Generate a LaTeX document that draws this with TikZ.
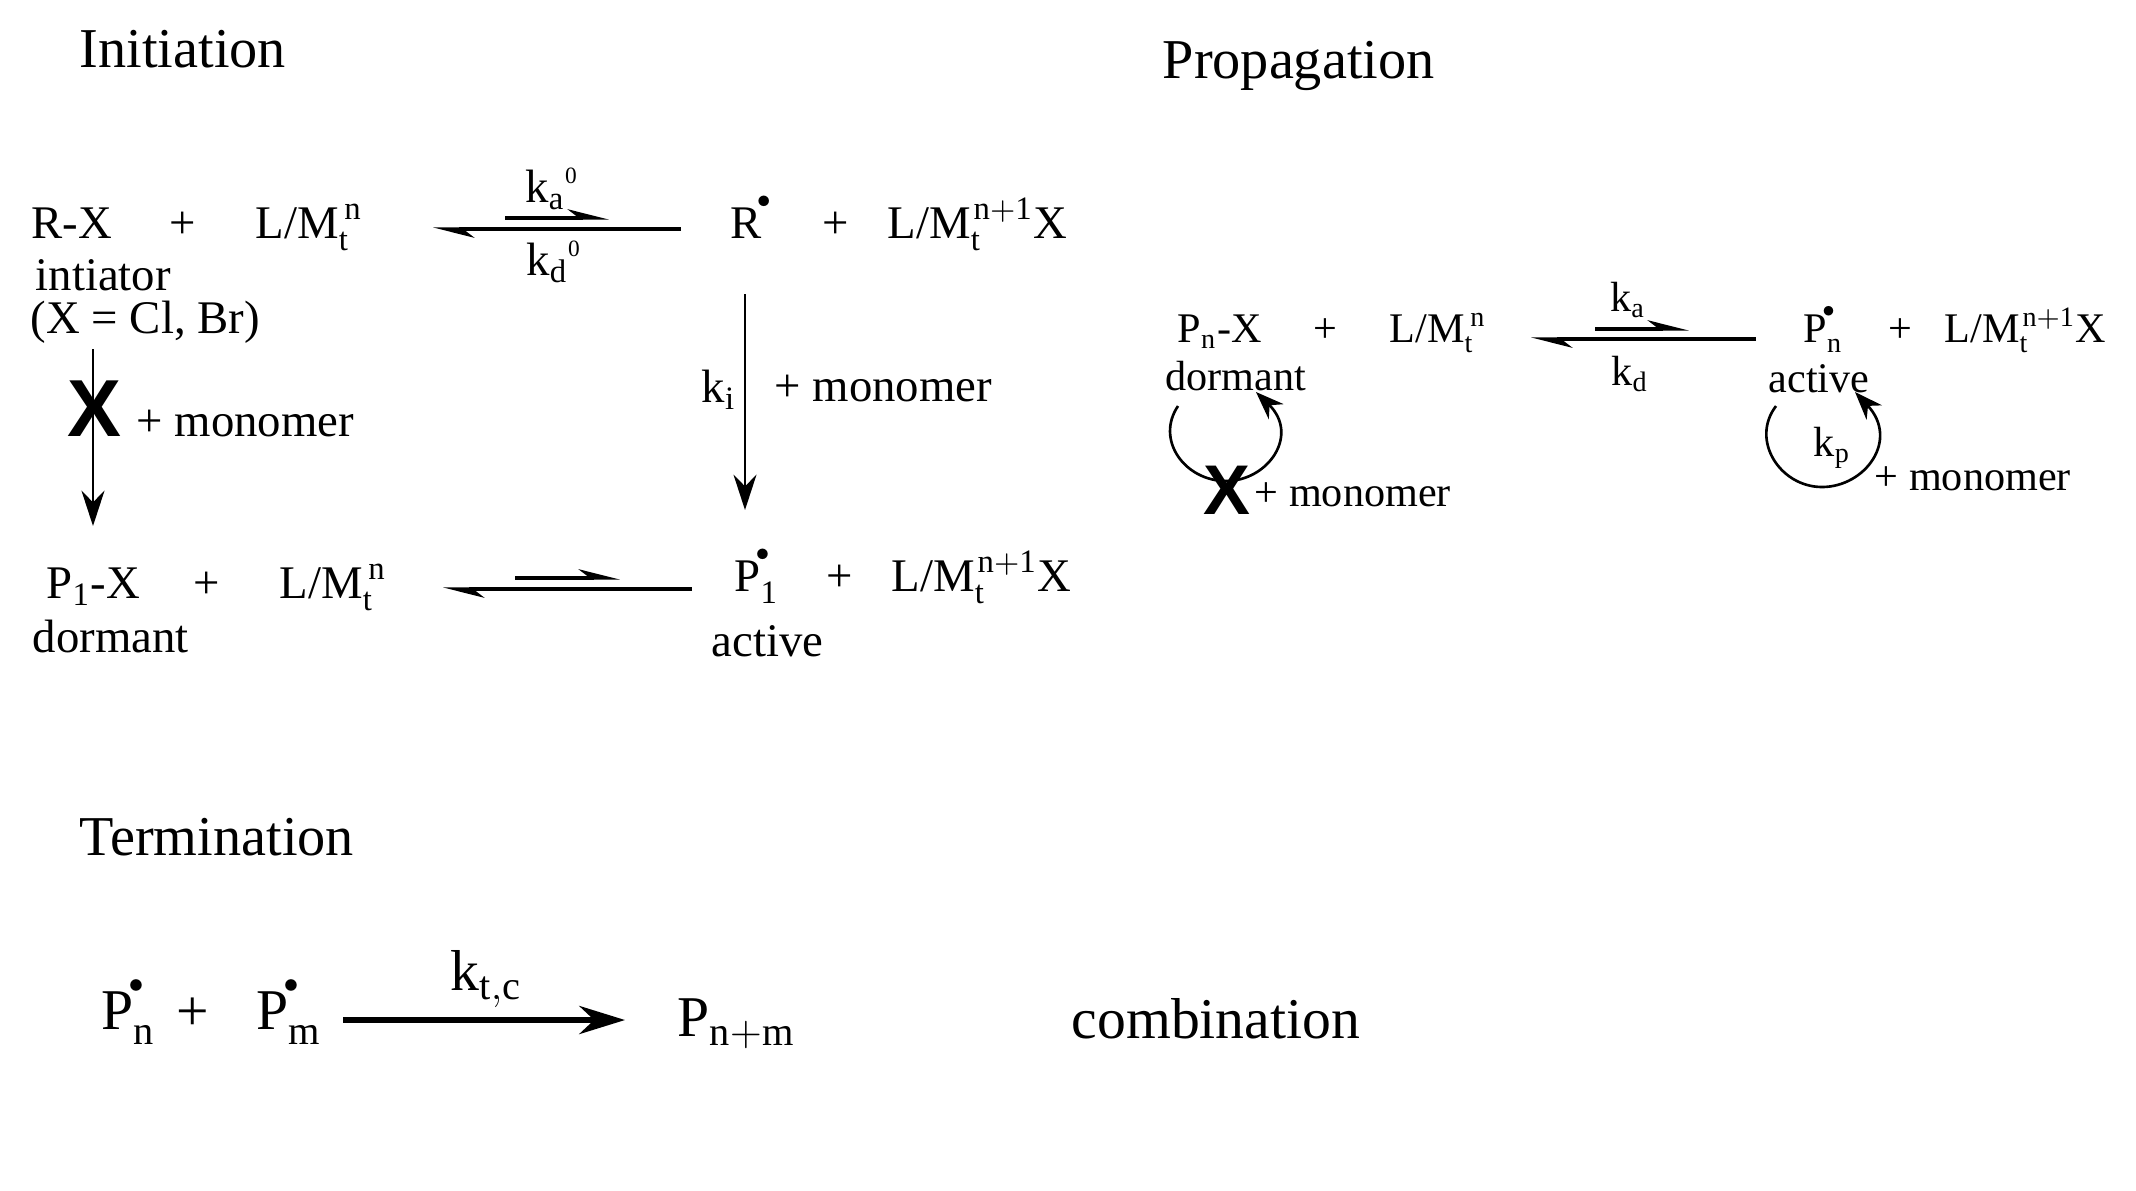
\documentclass[tikz,border=0pt]{standalone}
\usepackage{fontspec}
\setmainfont{Liberation Serif}
\newfontfamily\crossfont{Liberation Sans}
\usetikzlibrary{arrows.meta}
\newcommand{\rad}{{\kern-1.5pt\raisebox{0.55ex}{$\scriptscriptstyle\bullet$}}}
\newcommand{\lmt}{L/M$_{\mathrm{t}}^{\kern1.6pt\mathrm{n}}$}
\newcommand{\lmx}{L/M$_{\mathrm{t}}^{\kern0.8pt\mathrm{n+1}}$X}
\tikzset{
  every picture/.style={x=0.01cm, y=-0.01cm},
  every node/.style={inner sep=0pt, anchor=base west},
  hd/.style={font=\fontsize{16}{18}\selectfont},
  ini/.style={font=\fontsize{13.3}{15}\selectfont},
  prop/.style={font=\fontsize{12}{14}\selectfont},
  term/.style={font=\fontsize{16.4}{18}\selectfont},
  ctr/.style={anchor=base},
  rxn/.style={line width=0.75pt, -{Stealth[length=10pt, width=6.5pt]}},
  fwd/.style={line width=0.9pt, -{Stealth[harpoon, length=10pt, width=5pt]}},
  selfloop/.style={line width=0.75pt, -{Stealth[length=8pt, width=6pt]}},
  bigrxn/.style={line width=1.6pt, -{Stealth[length=13pt, width=8pt]}},
  bigx/.style={anchor=center},
}
\begin{document}
\begin{tikzpicture}
  \useasboundingbox (0,0) rectangle (2136,1190);
  % headings
  \node[hd] (initiation) at (79,67) {Initiation};
  \node[hd] (propagation) at (1162,78) {Propagation};
  \node[hd] (termination) at (79,855) {Termination};

  % initiation, top row
  \node[ini] (rx) at (31,238) {R-X};
  \node[ini,ctr] (plusa) at (183,238) {+};
  \node[ini] (lma) at (255,238) {\lmt};
  \node[ini] (rrad) at (730,238) {R$^\rad$};
  \node[ini,ctr] (plusb) at (836,238) {+};
  \node[ini] (lmb) at (887,238) {\lmx};
  \node[ini] (intiator) at (35,290) {intiator};
  \node[ini] (halide) at (30,333) {(X = Cl, Br)};
  \node[ini,ctr] (kazero) at (552,202) {k$_{\mathrm{a}}{}^{\scriptscriptstyle\mathrm{0}}$};
  \node[ini,ctr] (kdzero) at (554,275) {k$_{\mathrm{d}}{}^{\scriptscriptstyle\mathrm{0}}$};
  \coordinate (ia) at (505,218);
  \coordinate (ib) at (609,218);
  \coordinate (ic) at (681,229);
  \coordinate (id) at (433,229);
  \draw[fwd] (ia) -- (ib);
  \draw[fwd] (ic) -- (id);

  % initiation, vertical steps
  \coordinate (va) at (93,349);
  \coordinate (vb) at (93,526);
  \coordinate (vc) at (745,294);
  \coordinate (vd) at (745,510);
  \draw[rxn] (va) -- (vb);
  \draw[rxn] (vc) -- (vd);
  \node[bigx,font=\crossfont\bfseries\fontsize{23}{25}\selectfont] (xa) at (94,409) {X};
  \node[ini] (mona) at (136,436) {+ monomer};
  \node[ini] (ki) at (701,402) {k$_{\mathrm{i}}$};
  \node[ini] (monb) at (774,401) {+ monomer};

  % initiation, bottom row
  \node[ini] (pxa) at (46,598) {P$_{\mathrm{1}}$-X};
  \node[ini,ctr] (plusc) at (207,598) {+};
  \node[ini] (lmc) at (279,598) {\lmt};
  \node[ini] (ponerad) at (734,591) {P$_{\mathrm{1}}^\rad$};
  \node[ini,ctr] (plusd) at (840,591) {+};
  \node[ini] (lmd) at (891,591) {\lmx};
  \node[ini] (dorma) at (32,652) {dormant};
  \node[ini] (acta) at (711,656) {active};
  \coordinate (ie) at (515,578);
  \coordinate (if) at (620,578);
  \coordinate (ig) at (692,589);
  \coordinate (ih) at (443,589);
  \draw[fwd] (ie) -- (if);
  \draw[fwd] (ig) -- (ih);

  % propagation
  \node[prop] (pxn) at (1177,342) {P$_{\mathrm{n}}$-X};
  \node[prop,ctr] (pluse) at (1325,342) {+};
  \node[prop] (lme) at (1389,342) {\lmt};
  \node[prop] (pnrad) at (1803,342) {P$_{\mathrm{n}}^\rad$};
  \node[prop,ctr] (plusf) at (1900,342) {+};
  \node[prop] (lmf) at (1944,342) {\lmx};
  \node[prop,ctr] (ka) at (1628,311) {k$_{\mathrm{a}}$};
  \node[prop,ctr] (kd) at (1630,385) {k$_{\mathrm{d}}$};
  \node[prop] (dormb) at (1165,390) {dormant};
  \node[prop] (actb) at (1768,392) {active};
  \coordinate (pa) at (1595,329);
  \coordinate (pb) at (1689,329);
  \coordinate (pc) at (1756,339);
  \coordinate (pd) at (1531,339);
  \draw[fwd] (pa) -- (pb);
  \draw[fwd] (pc) -- (pd);

  % loops
  \coordinate (la) at (1178,406);
  \coordinate (lb) at (1226,481);
  \coordinate (lc) at (1256,392);
  \coordinate (ra) at (1776,406);
  \coordinate (rb) at (1822,487);
  \coordinate (rc) at (1855,392);
  \draw[selfloop] (la) .. controls (1155,440) and (1185,481) .. (lb)
    .. controls (1268,481) and (1300,435) .. (lc);
  \draw[selfloop] (ra) .. controls (1750,440) and (1780,487) .. (rb)
    .. controls (1865,487) and (1900,440) .. (rc);
  \node[bigx,font=\crossfont\bfseries\fontsize{20}{22}\selectfont] (xb) at (1227,490) {X};
  \node[prop] (monc) at (1254,506) {+ monomer};
  \node[prop] (kp) at (1813,456) {k$_{\mathrm{p}}$};
  \node[prop] (mond) at (1874,490) {+ monomer};

  % termination
  \node[term] (pna) at (101,1029) {P$_{\mathrm{n}}^\rad$};
  \node[term,ctr] (plusg) at (193,1030) {+};
  \node[term] (pma) at (256,1029) {P$_{\mathrm{m}}^\rad$};
  \node[term] (ktc) at (450,990) {k$_{\mathrm{t,c}}$};
  \node[term] (pnm) at (677,1036) {P$_{\mathrm{n+m}}$};
  \node[term] (combi) at (1071,1038) {combination};
  \coordinate (ta) at (343,1020);
  \coordinate (tb) at (625,1020);
  \draw[bigrxn] (ta) -- (tb);
\end{tikzpicture}
\end{document}
